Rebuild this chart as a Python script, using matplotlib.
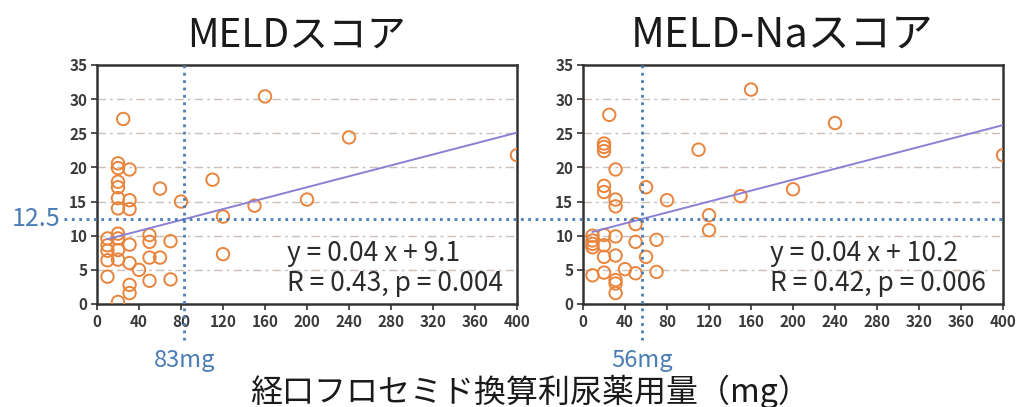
import numpy as np
import matplotlib
matplotlib.use('Agg')
import matplotlib.pyplot as plt
import matplotlib.transforms as mtransforms
from matplotlib.lines import Line2D

plt.rcParams['font.family'] = ['Noto Sans CJK JP', 'DejaVu Sans']

# Oral furosemide-equivalent dose (mg) vs MELD score
meld_dose = [25, 160, 240, 400, 20, 20, 31, 20, 20, 60, 110, 80, 20, 20, 31, 31,
             150, 200, 120, 120, 10, 10, 10, 10, 10, 20, 20, 20, 20, 31, 31, 31,
             31, 20, 40, 50, 50, 50, 50, 60, 70, 70]
meld_score = [27.1, 30.4, 24.4, 21.8, 20.6, 19.9, 19.7, 17.9, 17.1, 16.9, 18.2, 15.0,
              15.5, 14.0, 15.2, 13.9, 14.4, 15.3, 12.8, 7.3, 9.6, 8.6, 7.8, 6.4, 4.0,
              10.3, 9.6, 7.9, 6.5, 8.7, 6.0, 2.8, 1.6, 0.3, 5.0, 10.1, 9.1, 6.8, 3.4,
              6.8, 9.2, 3.6]

# Oral furosemide-equivalent dose (mg) vs MELD-Na score
na_dose = [25, 20, 20, 20, 31, 20, 20, 31, 31, 60, 80, 50, 9, 9, 9, 9, 20, 20, 20,
           31, 31, 50, 70, 60, 9, 20, 31, 31, 31, 40, 50, 70,
           160, 240, 400, 110, 200, 150, 120, 120]
na_score = [27.7, 23.5, 23.0, 22.4, 19.7, 17.3, 16.4, 15.3, 14.3, 17.1, 15.2, 11.7,
            10.0, 9.3, 8.8, 8.3, 10.1, 8.6, 6.9, 9.9, 7.1, 9.1, 9.4, 6.9, 4.2, 4.6,
            3.5, 3.0, 1.6, 5.1, 4.5, 4.7,
            31.4, 26.5, 21.8, 22.6, 16.8, 15.8, 13.0, 10.8]

titles = ['MELDスコア', 'MELD-Naスコア']
slopes = [0.04, 0.04]
intercepts = [9.1, 10.2]
r_values = [0.43, 0.42]
p_values = ['0.004', '0.006']
cutoff_dose = [83, 56]
cutoff_score = 12.5
xticks = [0, 40, 80, 120, 160, 200, 240, 280, 320, 360, 400]
yticks = [0, 5, 10, 15, 20, 25, 30, 35]

orange = '#e8843c'
blue = '#4a7db5'
purple = '#8c80d4'
dark = '#2b2b2b'

fig = plt.figure(figsize=(10.2, 4.07), dpi=100)
ax1 = fig.add_axes([0.0951, 0.2531, 0.4118, 0.5872])
ax2 = fig.add_axes([0.5716, 0.2531, 0.4118, 0.5872])

data = [(meld_dose, meld_score), (na_dose, na_score)]
eq_x = [0.452, 0.445]
title_x = [0.476, 0.475]
title_size = [28, 30]
for i, ax in enumerate([ax1, ax2]):
    x, y = data[i]
    ax.set_xlim(0, 400)
    ax.set_ylim(0, 35)
    for g in yticks[1:-1]:
        ax.axhline(g, color='#cbbfb8', lw=1, ls=(0, (6, 3, 2, 3)), zorder=0)
    ax.scatter(x, y, s=80, facecolors='none', edgecolors=orange, linewidths=1.4, zorder=3)

    # regression line, drawn over the observed dose range
    fx = np.array([min(x), 400])
    ax.plot(fx, slopes[i] * fx + intercepts[i], color=purple, lw=1.4, zorder=4)

    # cut-off dose marker below the axis
    vt = mtransforms.blended_transform_factory(ax.transData, ax.transAxes)
    ax.add_line(Line2D([cutoff_dose[i], cutoff_dose[i]], [1, -0.15], transform=vt,
                       color=blue, lw=2, ls=':', clip_on=False, zorder=5))
    ax.text(cutoff_dose[i], -0.235, '%dmg' % cutoff_dose[i], transform=vt, color=blue,
            fontsize=17, ha='center', va='center')

    ax.text(title_x[i], 1.04, titles[i], transform=ax.transAxes, fontsize=title_size[i],
            color='#1a1a1a', ha='center', va='bottom')
    ax.text(eq_x[i], 0.213, 'y = %.2f x + %.1f' % (slopes[i], intercepts[i]),
            transform=ax.transAxes, fontsize=19, color=dark, va='center')
    ax.text(eq_x[i], 0.085, 'R = %.2f, p = %s' % (r_values[i], p_values[i]),
            transform=ax.transAxes, fontsize=19, color=dark, va='center')

    ax.set_xticks(xticks)
    ax.set_yticks(yticks)
    ax.tick_params(direction='out', length=4, width=1.2, colors='#333333',
                   labelsize=11, pad=3)
    for lab in ax.get_xticklabels() + ax.get_yticklabels():
        lab.set_fontweight('bold')
        lab.set_color('#3a3a3a')
    for sp in ax.spines.values():
        sp.set_color('#333333')
        sp.set_linewidth(1.8)

# cut-off score line running across both panels
ht = mtransforms.blended_transform_factory(fig.transFigure, ax1.transData)
fig.add_artist(Line2D([0.063, 0.983], [cutoff_score, cutoff_score], transform=ht,
                      color=blue, lw=2, ls=':', zorder=5))
fig.text(0.059, cutoff_score, '12.5', transform=ht, color=blue, fontsize=18,
         ha='right', va='center')

fig.text(0.52, 0.038, '経口フロセミド換算利尿薬用量（mg）', fontsize=23,
         color='#1a1a1a', ha='center', va='center')

fig.savefig('out.png', dpi=100, facecolor='white')
